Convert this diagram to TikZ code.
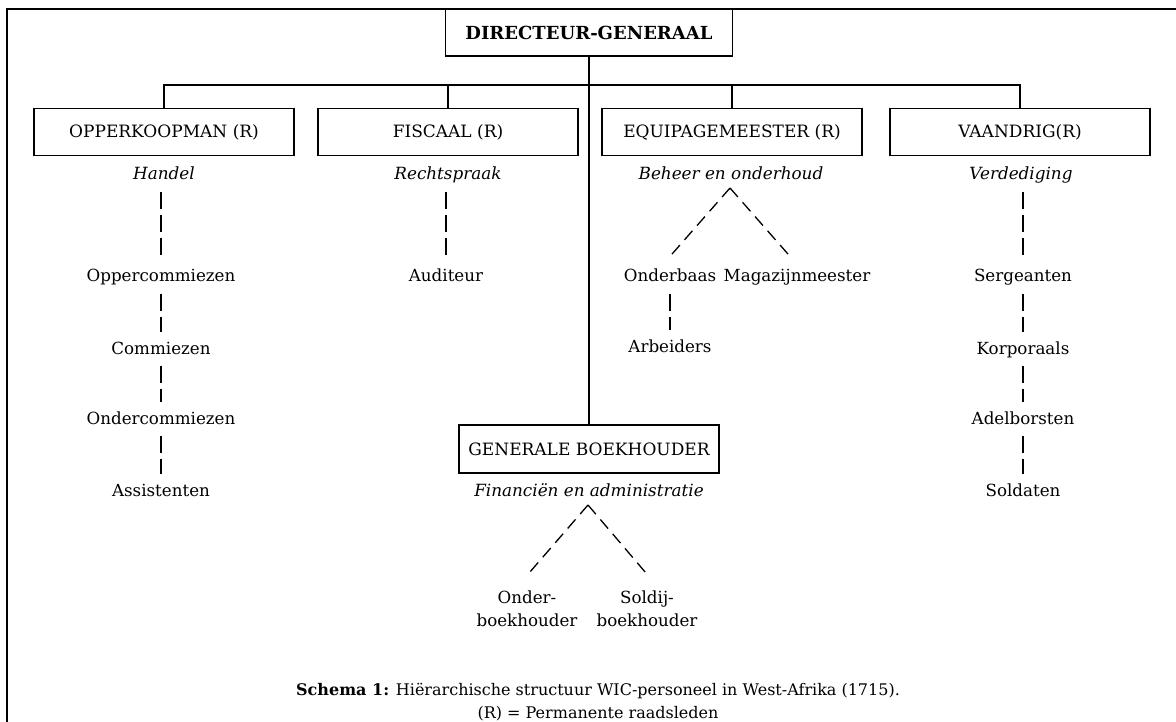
\documentclass[tikz,border=0pt]{standalone}
\usepackage{fontspec}
\setmainfont{DejaVu Serif}

\begin{document}
\begin{tikzpicture}[x=1pt, y=-1pt, line width=1.3pt,
      post/.style={rectangle, draw, line width=1.5pt, minimum width=260pt, minimum height=47pt, font=\fontsize{17}{20}\selectfont},
      task/.style={font=\fontsize{16.8}{20}\selectfont\itshape, text height=12.5pt, text depth=4.5pt, inner sep=1.5pt},
      rank/.style={font=\fontsize{16.7}{20}\selectfont, text height=12.5pt, text depth=4.5pt, inner sep=1.5pt},
      sub/.style={font=\fontsize{16.7}{23}\selectfont, align=center, inner sep=1.5pt},
      link/.style={dash pattern=on 17pt off 6pt, shorten <=5pt, shorten >=7pt},
      leg/.style={dash pattern=on 12pt off 7pt}
      ]
      \useasboundingbox (0,0) rectangle (1176,722);
      \draw[line width=1.6pt] (7,722) -- (7,9) -- (1176,9);

      \node[post, minimum width=287pt, font=\fontsize{18}{20}\selectfont\bfseries] (dg) at (589,32.5) {DIRECTEUR-GENERAAL};
      \node[post] (opk) at (164,132) {OPPERKOOPMAN (R)};
      \node[post] (fis) at (448,132) {FISCAAL (R)};
      \node[post] (equ) at (732,132) {EQUIPAGEMEESTER (R)};
      \node[post] (vaa) at (1020,132) {VAANDRIG(R)};
      \node[post, minimum height=48pt] (gb) at (589,449) {GENERALE BOEKHOUDER};

      \coordinate (bus) at (589,85);
      \draw (dg.south) -- (gb.north);
      \draw (opk.north) |- (bus) -| (vaa.north);
      \draw (fis.north) -- (fis.north |- bus);
      \draw (equ.north) -- (equ.north |- bus);

      \node[task] (handel) at (164,176) {Handel};
      \node[task] (recht) at (448,176) {Rechtspraak};
      \node[task] (beheer) at (731,176) {Beheer en onderhoud};
      \node[task] (verd) at (1021,176) {Verdediging};
      \node[task] (fin) at (589,492) {Financiën en administratie};

      \node[rank] (oppc) at (161,278) {Oppercommiezen};
      \node[rank] (comm) at (161,350) {Commiezen};
      \node[rank] (ondc) at (161,420) {Ondercommiezen};
      \node[rank] (assi) at (161,492) {Assistenten};
      \node[rank] (aud) at (446,278) {Auditeur};
      \node[rank] (ond) at (670,278) {Onderbaas};
      \node[rank] (mag) at (797,278) {Magazijnmeester};
      \node[rank] (arb) at (670,348) {Arbeiders};
      \node[rank] (serg) at (1023,278) {Sergeanten};
      \node[rank] (korp) at (1023,350) {Korporaals};
      \node[rank] (adel) at (1023,420) {Adelborsten};
      \node[rank] (sold) at (1023,492) {Soldaten};
      \node[sub] (obk) at (527,608.5) {Onder-\\boekhouder};
      \node[sub] (sbk) at (647,608.5) {Soldij-\\boekhouder};

      \draw[link, shorten >=11pt] (handel.south -| oppc) -- (oppc);
      \draw[link] (oppc) -- (comm);
      \draw[link] (comm) -- (ondc);
      \draw[link] (ondc) -- (assi);
      \draw[link, shorten >=11pt] (recht.south -| aud) -- (aud);
      \draw[link] (ond) -- (arb);
      \draw[link, shorten >=11pt] (verd.south -| serg) -- (serg);
      \draw[link] (serg) -- (korp);
      \draw[link] (korp) -- (adel);
      \draw[link] (adel) -- (sold);

      \coordinate (topB) at (730,188);
      \draw[leg] (topB) -- ([yshift=11pt]ond.north);
      \draw[leg] (topB) -- ([xshift=-7pt,yshift=11pt]mag.north);
      \coordinate (topF) at (588,505);
      \draw[leg] (topF) -- ([yshift=13pt]obk.north);
      \draw[leg] (topF) -- ([xshift=1pt,yshift=13pt]sbk.north);

      \node[font=\fontsize{16}{23}\selectfont, align=center] (cap) at (598,702) {\textbf{Schema 1:} Hiërarchische structuur WIC-personeel in West-Afrika (1715).\\(R) = Permanente raadsleden};
    \end{tikzpicture}
\end{document}
